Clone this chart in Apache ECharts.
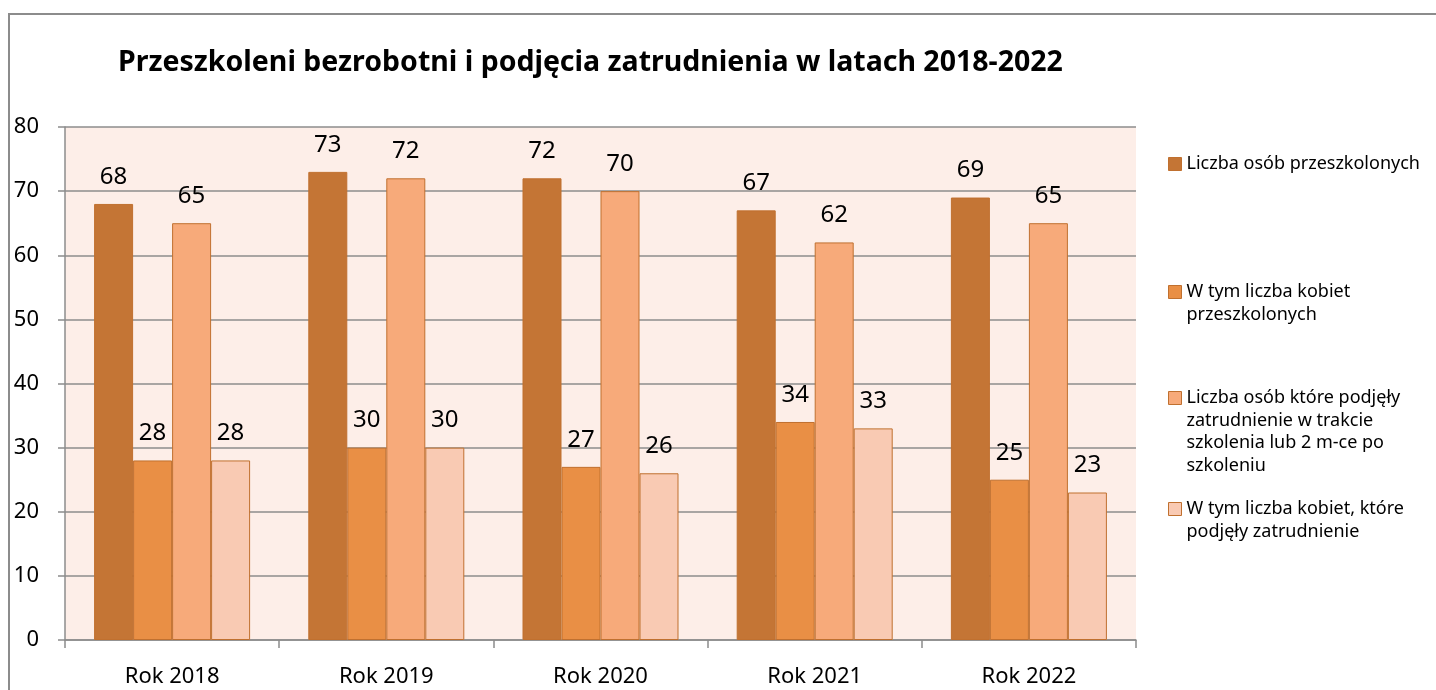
<!DOCTYPE html>
<html>
<head>
<meta charset="utf-8">
<script src="https://cdn.jsdelivr.net/npm/echarts@6/dist/echarts.min.js"></script>
<style>
html,body{margin:0;padding:0;background:#fff;}
#main{width:1436px;height:690px;}
</style>
</head>
<body>
<div id="main"></div>
<script>
var years = ['Rok 2018', 'Rok 2019', 'Rok 2020', 'Rok 2021', 'Rok 2022'];
var seriesNames = [
	'Liczba osób przeszkolonych',
	'W tym liczba kobiet przeszkolonych',
	'Liczba osób które podjęły zatrudnienie w trakcie szkolenia lub 2 m-ce po szkoleniu',
	'W tym liczba kobiet, które podjęły zatrudnienie'
];
// legend lines as shown in the picture
var legendLines = [
	['Liczba osób przeszkolonych'],
	['W tym liczba kobiet', 'przeszkolonych'],
	['Liczba osób które podjęły', 'zatrudnienie w trakcie', 'szkolenia lub 2 m-ce po', 'szkoleniu'],
	['W tym liczba kobiet, które', 'podjęły zatrudnienie']
];
var przeszkoleni = [68, 73, 72, 67, 69];
var kobietyPrzeszkolone = [28, 30, 27, 34, 25];
var podjeteZatrudnienie = [65, 72, 70, 62, 65];
var kobietyZatrudnione = [28, 30, 26, 33, 23];
var yTicks = [0, 10, 20, 30, 40, 50, 60, 70, 80];

var colors = ['#c47535', '#e98f45', '#f7aa7a', '#f9cab3'];
var values = [przeszkoleni, kobietyPrzeszkolone, podjeteZatrudnienie, kobietyZatrudnione];
// centre of each legend marker (first text line)
var legendCentres = [163, 291, 397, 508];
var legendLineHeight = 22.5;

var myChart = echarts.init(document.getElementById('main'));

var series = [];
for (var i = 0; i < 4; i++) {
	series.push({
		name: seriesNames[i],
		type: 'bar',
		barWidth: 39,
		barGap: '0%',
		itemStyle: {
			color: colors[i],
			borderColor: '#c0702f',
			borderWidth: 1
		},
		label: {
			show: true,
			position: 'top',
			distance: 15,
			color: '#000',
			fontFamily: 'Noto Sans',
			fontSize: 24
		},
		data: values[i]
	});
}

var legends = [];
for (var j = 0; j < 4; j++) {
	(function(k){
		var n = legendLines[k].length;
		legends.push({
			orient: 'vertical',
			left: 1168,
			top: legendCentres[k] + 1 - (2 * n - 1) * legendLineHeight / 2,
			padding: 0,
			itemWidth: 13,
			itemHeight: 13,
			itemGap: 0,
			icon: 'rect',
			selectedMode: false,
			textStyle: {
				fontFamily: 'Noto Sans',
				fontSize: 18,
				lineHeight: legendLineHeight,
				color: '#000'
			},
			formatter: function(){
				var lines = legendLines[k];
				var pad = [];
				for (var p = 0; p < lines.length - 1; p++) pad.push(' ');
				return pad.concat(lines).join('\n');
			},
			data: [{name: seriesNames[k], itemStyle: {borderColor: '#c0702f', borderWidth: 1}}]
		});
	})(j);
}

var option = {
	animation: false,
	backgroundColor: '#fff',
	title: {
		text: 'Przeszkoleni bezrobotni i podjęcia zatrudnienia w latach 2018-2022',
		left: 113,
		top: 43,
		textStyle: {
			fontFamily: 'Noto Sans',
			fontWeight: 'bold',
			fontSize: 28.5,
			color: '#000'
		}
	},
	legend: legends,
	grid: {
		left: 65,
		right: 300,
		top: 127,
		bottom: 50,
		show: true,
		backgroundColor: '#fdeee8',
		borderWidth: 0
	},
	xAxis: {
		type: 'category',
		data: years,
		boundaryGap: true,
		axisLine: {lineStyle: {color: '#8c8c8c', width: 1.5}},
		axisTick: {show: true, length: 8, lineStyle: {color: '#8c8c8c', width: 1.5}},
		axisLabel: {
			color: '#000',
			fontFamily: 'Noto Sans',
			fontSize: 22,
			margin: 26
		}
	},
	yAxis: {
		type: 'value',
		min: yTicks[0],
		max: yTicks[yTicks.length - 1],
		interval: 10,
		axisLine: {show: true, lineStyle: {color: '#8c8c8c', width: 1.5}},
		axisTick: {show: true, length: 7, lineStyle: {color: '#8c8c8c', width: 1.5}},
		splitLine: {show: true, lineStyle: {color: '#8c8c8c', width: 1.5}},
		axisLabel: {
			color: '#000',
			fontFamily: 'Noto Sans',
			fontSize: 22,
			margin: 26
		}
	},
	graphic: [{
		type: 'rect',
		silent: true,
		shape: {x: 9, y: 14, width: 1440, height: 700},
		style: {fill: 'none', stroke: '#8c8c8c', lineWidth: 2}
	}],
	series: series
};

myChart.setOption(option, true);
</script>
</body>
</html>
